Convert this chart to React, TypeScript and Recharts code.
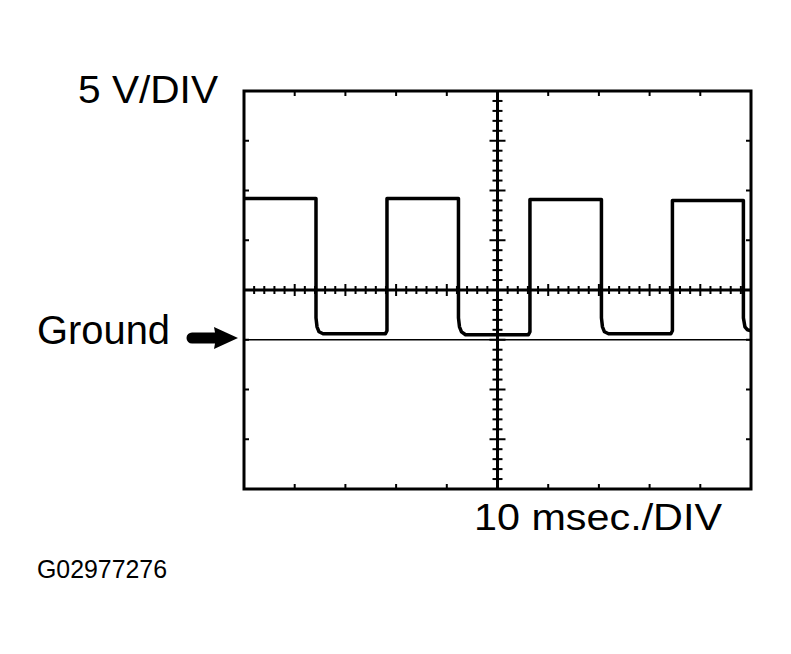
import React from 'react';
import { ComposedChart, Line, Scatter, XAxis, YAxis, ReferenceLine, ReferenceArea } from 'recharts';

// time (ms) and voltage (V) of the traced waveform
const timeMs = [0, 14.2, 14.2, 14.4, 14.8, 15.6, 27.9, 28.2, 28.2,
  42.3, 42.3, 42.5, 42.9, 43.7, 56.1, 56.4, 56.4,
  70.5, 70.5, 70.7, 71.1, 71.9, 84.2, 84.5, 84.5,
  98.5, 98.5, 98.8, 99.3, 100];
const volts = [14.2, 14.2, 2.2, 1.3, 0.8, 0.6, 0.6, 0.9, 14.2,
  14.2, 2.2, 1.3, 0.8, 0.5, 0.5, 0.8, 14.1,
  14.1, 2.2, 1.3, 0.8, 0.6, 0.6, 0.9, 14.0,
  14.0, 2.2, 1.3, 1.0, 0.9];

// graticule: 10 ms/div across, 5 V/div up, ground at 0 V
const timeDivs = [0, 10, 20, 30, 40, 50, 60, 70, 80, 90, 100];
const voltDivs = [-15, -10, -5, 0, 5, 10, 15, 20, 25];
const timeMinor = [2, 4, 6, 8, 12, 14, 16, 18, 22, 24, 26, 28, 32, 34, 36, 38, 42, 44, 46, 48,
  52, 54, 56, 58, 62, 64, 66, 68, 72, 74, 76, 78, 82, 84, 86, 88, 92, 94, 96, 98];
const voltMinor = [-14, -13, -12, -11, -9, -8, -7, -6, -4, -3, -2, -1, 1, 2, 3, 4, 6, 7, 8, 9,
  11, 12, 13, 14, 16, 17, 18, 19, 21, 22, 23, 24];
const tMin = 0, tMax = 100, vMin = -15, vMax = 25;
const centerTime = 50;
const centerVolt = 5;

const trace = timeMs.map((t, i) => ({ t, v: volts[i] }));
const hMinor = timeMinor.map((t) => ({ t, v: centerVolt }));
const hMajor = timeDivs.map((t) => ({ t, v: centerVolt }));
const vMinor = voltMinor.map((v) => ({ t: centerTime, v }));
const vMajor = voltDivs.map((v) => ({ t: centerTime, v }));
const bottomTicks = timeDivs.map((t) => ({ t, v: vMin }));
const topTicks = timeDivs.map((t) => ({ t, v: vMax }));
const leftTicks = voltDivs.map((v) => ({ t: tMin, v }));
const rightTicks = voltDivs.map((v) => ({ t: tMax, v }));

// tick shapes: dx/dy span from the point, in pixels
const tickMark = (x0: number, x1: number, y0: number, y1: number) => (p: any) => (
  <line x1={p.cx + x0} x2={p.cx + x1} y1={p.cy + y0} y2={p.cy + y1} stroke="#000" strokeWidth={2} />
);

const font = '"Liberation Sans", Arial, sans-serif';

export default function App() {
  return (
    <div style={{ position: 'absolute', left: 0, top: 0, width: 791, height: 654, background: '#fff' }}>
      <ComposedChart width={791} height={654} margin={{ top: 91, right: 40, bottom: 165, left: 244 }}>
        <XAxis dataKey="t" type="number" domain={[tMin, tMax]} hide allowDataOverflow />
        <YAxis dataKey="v" type="number" domain={[vMin, vMax]} hide allowDataOverflow />
        <ReferenceArea x1={tMin} x2={tMax} y1={vMin} y2={vMax} fill="none" fillOpacity={0}
          stroke="#000" strokeWidth={3} />
        <ReferenceLine y={0} stroke="#000" strokeWidth={1.5} />
        <ReferenceLine y={centerVolt} stroke="#000" strokeWidth={3} />
        <ReferenceLine x={centerTime} stroke="#000" strokeWidth={3} />
        <Scatter data={hMinor} dataKey="v" shape={tickMark(0, 0, -4, 4)} isAnimationActive={false} />
        <Scatter data={hMajor} dataKey="v" shape={tickMark(0, 0, -6, 6)} isAnimationActive={false} />
        <Scatter data={vMinor} dataKey="v" shape={tickMark(-5, 5, 0, 0)} isAnimationActive={false} />
        <Scatter data={vMajor} dataKey="v" shape={tickMark(-8, 8, 0, 0)} isAnimationActive={false} />
        <Scatter data={bottomTicks} dataKey="v" shape={tickMark(0, 0, -5, 0)} isAnimationActive={false} />
        <Scatter data={topTicks} dataKey="v" shape={tickMark(0, 0, 0, 5)} isAnimationActive={false} />
        <Scatter data={leftTicks} dataKey="v" shape={tickMark(0, 5, 0, 0)} isAnimationActive={false} />
        <Scatter data={rightTicks} dataKey="v" shape={tickMark(-5, 0, 0, 0)} isAnimationActive={false} />
        <Line data={trace} dataKey="v" type="linear" stroke="#000" strokeWidth={3.5} dot={false}
          strokeLinejoin="round" isAnimationActive={false} />
      </ComposedChart>
      <svg width={791} height={654} style={{ position: 'absolute', left: 0, top: 0, pointerEvents: 'none' }}>
        <g fontFamily={font} fill="#000">
          <text x={78} y={103} fontSize={39} textLength={140} lengthAdjust="spacingAndGlyphs">5 V/DIV</text>
          <text x={37} y={344} fontSize={41} textLength={133} lengthAdjust="spacingAndGlyphs">Ground</text>
          <text x={474} y={530} fontSize={36} textLength={248} lengthAdjust="spacingAndGlyphs">10 msec./DIV</text>
          <text x={37} y={578} fontSize={25} textLength={130} lengthAdjust="spacingAndGlyphs">G02977276</text>
        </g>
        <path d="M192,332.5 L215,332.5 L214,327 L238,338 L214,349 L215,343.5 L192,343.5 A5.5,5.5 0 0 1 192,332.5 Z" fill="#000" />
      </svg>
    </div>
  );
}
